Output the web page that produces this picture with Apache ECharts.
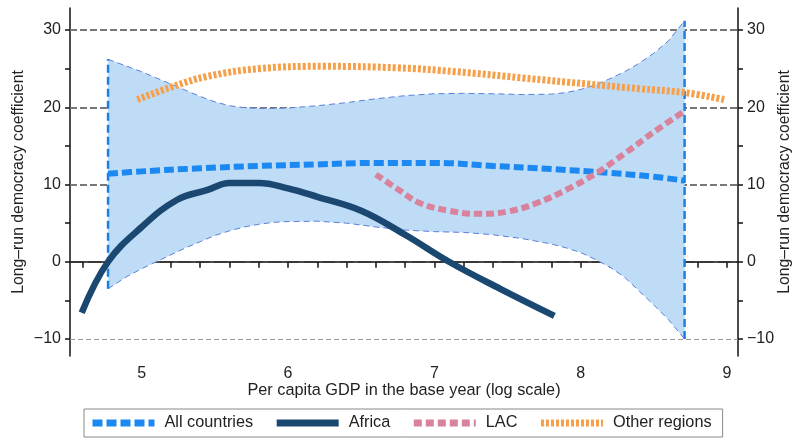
<!DOCTYPE html>
<html>
<head>
<meta charset="utf-8">
<script src="https://cdn.jsdelivr.net/npm/echarts@6/dist/echarts.min.js"></script>
<style>
  html, body {margin: 0; padding: 0; background: #fff;}
  #chart {width: 793px; height: 440px;}
</style>
</head>
<body>
<div id="chart"></div>
<script>
// confidence band for all countries
var bandX    = [4.77, 4.9, 5.0, 5.1, 5.2, 5.3, 5.4, 5.5, 5.6, 5.7, 5.8, 5.9, 6.0, 6.2, 6.4, 6.6, 6.8, 7.0, 7.2, 7.4, 7.6, 7.8, 7.9, 8.0, 8.1, 8.2, 8.3, 8.4, 8.5, 8.6, 8.71];
var bandLow  = [-3.5, -1.9, -0.9, 0.0, 0.9, 1.8, 2.6, 3.4, 4.0, 4.5, 4.85, 5.1, 5.2, 5.25, 5.0, 4.5, 4.1, 3.9, 3.8, 3.5, 3.0, 2.3, 1.8, 1.2, 0.3, -0.7, -2.0, -3.8, -5.6, -7.5, -10.0];
var bandHigh = [26.2, 25.3, 24.6, 23.8, 23.0, 22.2, 21.4, 20.7, 20.2, 19.95, 19.85, 19.85, 19.9, 20.2, 20.6, 21.1, 21.5, 21.75, 21.8, 21.75, 21.65, 21.7, 21.9, 22.3, 22.9, 23.7, 24.6, 25.7, 27.0, 28.6, 31.2];

var allX = [4.77, 5.0, 5.4, 5.8, 6.2, 6.6, 7.0, 7.4, 7.8, 8.2, 8.5, 8.71];
var allY = [11.4, 11.7, 12.1, 12.4, 12.6, 12.8, 12.8, 12.4, 12.0, 11.5, 11.0, 10.5];

var africaX = [4.59, 4.77, 5.0, 5.24, 5.45, 5.6, 5.8, 6.0, 6.2, 6.5, 6.8, 7.1, 7.45, 7.82];
var africaY = [-6.6, 0.0, 4.5, 8.0, 9.3, 10.2, 10.2, 9.5, 8.4, 6.6, 3.5, 0.0, -3.5, -7.0];

var lacX = [6.6, 6.75, 6.9, 7.1, 7.3, 7.5, 7.7, 7.9, 8.1, 8.3, 8.5, 8.71];
var lacY = [11.3, 9.4, 7.6, 6.6, 6.2, 6.5, 7.6, 9.3, 11.4, 14.0, 16.8, 19.5];

var otherX = [4.97, 5.2, 5.45, 5.8, 6.25, 6.75, 7.15, 7.6, 8.05, 8.4, 8.71, 8.98];
var otherY = [21.0, 22.6, 24.0, 25.0, 25.3, 25.1, 24.6, 23.8, 23.0, 22.4, 21.9, 21.0];

var xLabels = [5, 6, 7, 8, 9];
var xTicks = [4.6, 4.8, 5, 5.2, 5.4, 5.6, 5.8, 6, 6.2, 6.4, 6.6, 6.8, 7, 7.2, 7.4, 7.6, 7.8, 8, 8.2, 8.4, 8.6, 8.8, 9];
var yLabels = [-10, 0, 10, 20, 30];
var yTicks = [-10, -5, 0, 5, 10, 15, 20, 25, 30];
var refLines = [30, 20, 10, 0, -10];

var legendNames = ['All countries', 'Africa', 'LAC', 'Other regions'];

function pts(xs, ys) { return xs.map(function (x, i) { return [x, ys[i]]; }); }
function minus(v) { return v < 0 ? '\u2212' + Math.abs(v) : String(v); }
function refStyle(v) {
    if (v === 0) return {color: '#333', width: 1.5, type: [13, 5]};
    if (v === -10) return {color: '#999', width: 1.2, type: [5, 3]};
    return {color: '#777', width: 2, type: [7, 3]};
}

var font = 'Liberation Sans';
var axisLine = {show: true, lineStyle: {color: '#111', width: 1.5}};
var bandBorder = {color: '#5a7fd8', width: 1, type: [6, 4]};
var last = bandX.length - 1;

function yAxis(pos) {
    return {
        type: 'value', position: pos, min: -12.2, max: 32.85,
        name: 'Long\u2013run democracy coefficient', nameLocation: 'middle',
        nameGap: pos === 'left' ? 43 : 39, nameMoveOverlap: false,
        nameTextStyle: {fontSize: 15.8, color: '#222', fontFamily: font},
        axisLine: axisLine,
        axisTick: {show: true, length: 5, customValues: yTicks, lineStyle: {color: '#111', width: 1.5}},
        axisLabel: {customValues: yLabels, formatter: minus, fontSize: 16, color: '#222', margin: 9, fontFamily: font},
        splitLine: {show: false}
    };
}

var chart = echarts.init(document.getElementById('chart'));
chart.setOption({
    animation: false,
    textStyle: {fontFamily: font},
    grid: {left: 70, right: 55, top: 8, bottom: 84, outerBoundsMode: 'none', containLabel: false},
    legend: {
        data: legendNames, left: 84, top: 409,
        borderColor: '#888', borderWidth: 1, padding: [6, 11, 6, 5],
        itemWidth: 62, itemHeight: 8, itemGap: 20,
        itemStyle: {opacity: 0},
        lineStyle: {width: 7},
        textStyle: {fontSize: 16.3, color: '#222', padding: [0, 0, 0, 5]}
    },
    xAxis: {
        type: 'value', min: 4.51, max: 9.075,
        name: 'Per capita GDP in the base year (log scale)', nameLocation: 'middle', nameGap: 27, nameMoveOverlap: false,
        nameTextStyle: {fontSize: 16.3, color: '#222'},
        axisLine: axisLine,
        axisTick: {show: true, length: 6, customValues: xTicks, lineStyle: {color: '#111', width: 1.5}},
        axisLabel: {customValues: xLabels, fontSize: 16, color: '#222', margin: 10},
        splitLine: {show: false}
    },
    yAxis: [yAxis('left'), yAxis('right')],
    series: [
        {
            name: 'bandFill', type: 'custom', silent: true, z: 2,
            data: [[bandX[0], bandLow[0]]],
            renderItem: function (params, api) {
                var top = bandX.map(function (x, i) { return api.coord([x, bandHigh[i]]); });
                var bottom = bandX.map(function (x, i) { return api.coord([x, bandLow[i]]); }).reverse();
                return {type: 'polygon', shape: {points: top.concat(bottom)}, style: {fill: '#bfdcf7'}};
            }
        },
        {
            name: 'bandLow', type: 'line', data: pts(bandX, bandLow), symbol: 'none', z: 3,
            lineStyle: bandBorder,
            markLine: {
                silent: true, symbol: 'none', z: 1, label: {show: false},
                data: refLines.map(function (v) { return {yAxis: v, lineStyle: refStyle(v)}; })
            }
        },
        {
            name: 'bandHigh', type: 'line', data: pts(bandX, bandHigh), symbol: 'none', z: 3,
            lineStyle: bandBorder
        },
        {
            name: 'edgeL', type: 'line', symbol: 'none', z: 3,
            data: [[bandX[0], bandLow[0]], [bandX[0], bandHigh[0]]],
            lineStyle: {color: '#1f7fe0', width: 2.5, type: [8, 4]}
        },
        {
            name: 'edgeR', type: 'line', symbol: 'none', z: 3,
            data: [[bandX[last], bandLow[last]], [bandX[last], bandHigh[last]]],
            lineStyle: {color: '#1f7fe0', width: 2.5, type: [8, 4]}
        },
        {
            name: 'All countries', type: 'line', data: pts(allX, allY), smooth: 0.4, symbol: 'none', z: 4,
            color: '#1c89f2', lineStyle: {color: '#1c89f2', width: 6, type: [10, 4]}
        },
        {
            name: 'Africa', type: 'line', data: pts(africaX, africaY), smooth: 0.4, symbol: 'none', z: 4,
            color: '#1b4870', lineStyle: {color: '#1b4870', width: 6.5}
        },
        {
            name: 'LAC', type: 'line', data: pts(lacX, lacY), smooth: 0.4, symbol: 'none', z: 5,
            color: '#d9829c', lineStyle: {color: '#d9829c', width: 6, type: [8, 4]}
        },
        {
            name: 'Other regions', type: 'line', data: pts(otherX, otherY), smooth: 0.4, symbol: 'none', z: 5,
            color: '#f6a04c', lineStyle: {color: '#f6a04c', width: 7, type: [3, 2]}
        }
    ]
});
</script>
</body>
</html>
